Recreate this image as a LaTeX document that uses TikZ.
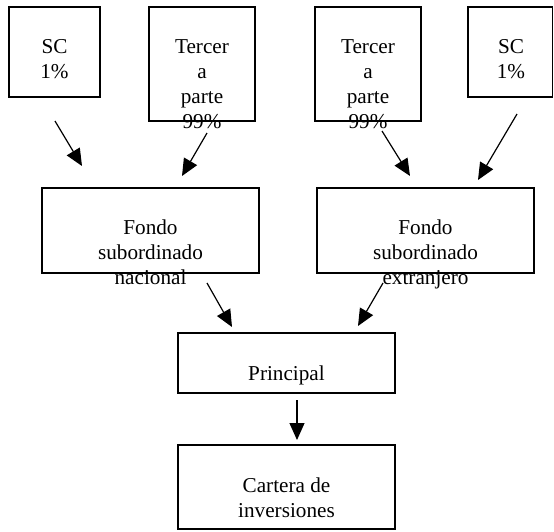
\documentclass[tikz,border=0pt]{standalone}
\usepackage{fontspec}
\setmainfont{Liberation Serif}
\usetikzlibrary{arrows.meta}
\begin{document}
\begin{tikzpicture}[x=1pt,y=-1pt,
  boxstyle/.style={draw=black,line width=1.3pt},
  txt/.style={inner sep=0pt,align=center,anchor=north,font=\fontsize{21.2}{25}\selectfont},
  arr/.style={line width=1.2pt,-{Triangle[length=17pt,width=15pt]}}]
\useasboundingbox[fill=white] (0,0) rectangle (554,531);
% boxes
\draw[boxstyle] (9,7) rectangle (100,97);
\draw[boxstyle] (149,7) rectangle (255,121);
\draw[boxstyle] (315,7) rectangle (421,121);
\draw[boxstyle] (468,7) rectangle (552.5,97);
\draw[boxstyle] (42,188) rectangle (259,273);
\draw[boxstyle] (317,188) rectangle (534,273);
\draw[boxstyle] (178,333) rectangle (395,393);
\draw[boxstyle] (178,445) rectangle (395,529);
% texts
\node[txt] (sc1) at (54.5,39.5) {SC\\1\%};
\node[txt] (t1) at (202,39.5) {Tercer\\a\\parte\\99\%};
\node[txt] (t2) at (368,39.5) {Tercer\\a\\parte\\99\%};
\node[txt] (sc2) at (511,39.5) {SC\\1\%};
\node[txt] (fn) at (150.5,220) {Fondo\\subordinado\\nacional};
\node[txt] (fe) at (425.5,220) {Fondo\\subordinado\\extranjero};
\node[txt] (pr) at (286.5,366) {Principal};
\node[txt] (ca) at (286.5,478) {Cartera de\\inversiones};
% arrow end points
\coordinate (a1s) at (55,121); \coordinate (a1e) at (82,166);
\coordinate (a2s) at (207,133); \coordinate (a2e) at (182,176);
\coordinate (a3s) at (382,131); \coordinate (a3e) at (410,176);
\coordinate (a4s) at (517,114); \coordinate (a4e) at (478,180);
\coordinate (a5s) at (207,283); \coordinate (a5e) at (232,327);
\coordinate (a6s) at (383,283); \coordinate (a6e) at (358,326);
\coordinate (a7s) at (297,400); \coordinate (a7e) at (297,440);
\draw[arr] (a1s) -- (a1e);
\draw[arr] (a2s) -- (a2e);
\draw[arr] (a3s) -- (a3e);
\draw[arr] (a4s) -- (a4e);
\draw[arr] (a5s) -- (a5e);
\draw[arr] (a6s) -- (a6e);
\draw[arr] (a7s) -- (a7e);
\end{tikzpicture}
\end{document}
